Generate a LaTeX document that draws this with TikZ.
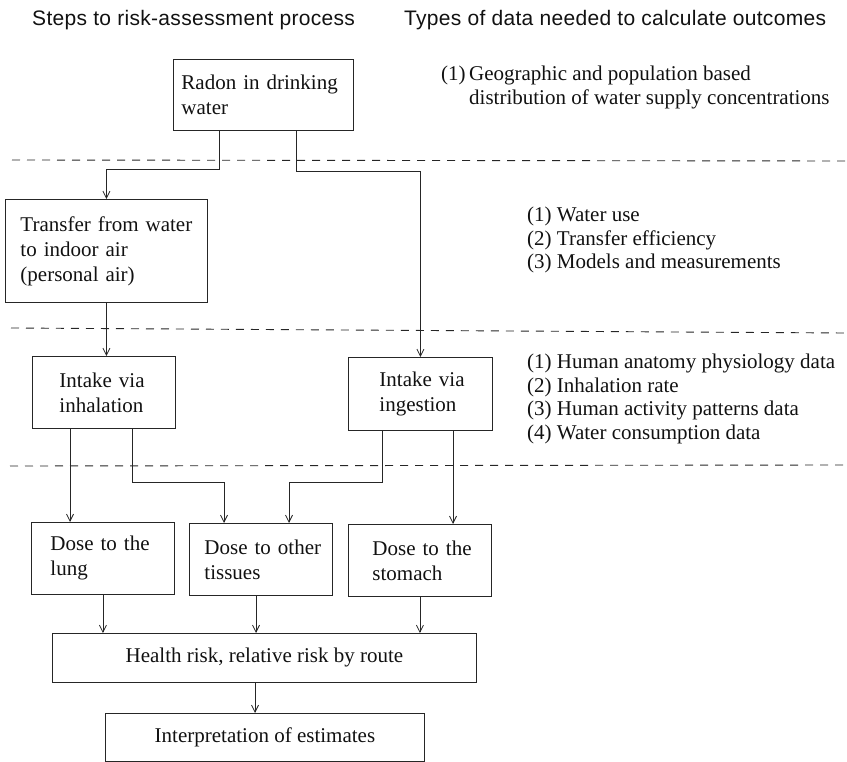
\documentclass[tikz,border=0pt]{standalone}
\usepackage{fontspec}
\setmainfont{Liberation Serif}
\newfontfamily\titlefont[LetterSpace=1.5]{Liberation Sans}
\usetikzlibrary{arrows.meta,calc}
\definecolor{ink}{HTML}{111111}
\definecolor{wire}{HTML}{262626}
\begin{document}
\begin{tikzpicture}[x=1pt,y=-1pt,
  box/.style={draw=wire, line width=0.9pt, rectangle, align=left, anchor=north west,
    font=\fontsize{21}{25}\selectfont, text=ink, inner ysep=0pt},
  cbox/.style={draw=wire, line width=0.9pt, rectangle, align=center, anchor=north west,
    font=\fontsize{21}{25}\selectfont, text=ink, inner sep=0pt},
  arr/.style={draw=wire, line width=0.8pt, -{Straight Barb[length=7pt,width=7pt]}},
  sepline/.style={draw=wire, line width=0.9pt, dash pattern=on 8pt off 7pt},
  info/.style={font=\fontsize{21}{23.5}\selectfont, align=left, anchor=north west, text=ink, inner sep=0pt},
  ttl/.style={font=\titlefont\fontsize{21}{24}\selectfont, anchor=west, inner sep=0pt, text=ink}]
\useasboundingbox (0,0) rectangle (847,762);

% titles
\node[ttl] (t1) at (32,20) {Steps to risk-assessment process};
\node[ttl] (t2) at (404,20) {Types of data needed to calculate outcomes};

% separators
\draw[sepline] (12,160) -- (845,161);
\draw[sepline] (11,328) -- (845,333);
\draw[sepline] (10,466) -- (845,465);

% boxes
\node[box, minimum height=71pt, inner xsep=8pt, text width=164pt] (radon) at (173,59) {Radon in~drinking\\water};
\node[box, minimum height=103pt, inner xsep=15pt, text width=172pt] (transfer) at (5,199) {Transfer from~water\\to indoor~air\\(personal~air)};
\node[box, minimum height=72pt, inner xsep=27pt, text width=89pt] (inhal) at (32,356) {Intake~via\\inhalation};
\node[box, minimum height=73pt, inner xsep=31pt, text width=82pt] (ingest) at (348,357) {Intake~via\\ingestion};
\node[box, minimum height=72pt, inner xsep=19pt, text width=105pt] (lung) at (31,522) {Dose~to~the\\lung};
\node[box, minimum height=72pt, inner xsep=15pt, text width=113pt] (other) at (189,523) {Dose~to~other\\tissues};
\node[box, minimum height=72pt, inner xsep=24pt, text width=95pt] (stomach) at (348,524) {Dose~to~the\\stomach};
\node[cbox, minimum width=424pt, minimum height=49pt] (health) at (52,633) {Health risk, relative risk by route};
\node[cbox, minimum width=319pt, minimum height=48pt] (interp) at (105,713) {Interpretation of estimates};

% data lists
\node[info] (d1) at (441,66) {\makebox[28pt][l]{(1)}Geographic and population based\\\hspace*{28pt}distribution of water supply concentrations};
\node[info] (d2) at (527,207) {(1) Water use\\(2) Transfer efficiency\\(3) Models and measurements};
\node[info] (d3) at (527,354) {(1) Human anatomy physiology data\\(2) Inhalation rate\\(3) Human activity patterns data\\(4) Water consumption data};

% connectors
\draw[arr] ([xshift=46pt]radon.south west) -- ++(0,39) -| (transfer.north);
\draw[arr] ([xshift=123pt]radon.south west) -- ++(0,41) -| (ingest.north);
\draw[arr] (transfer.south) -- (transfer.south |- inhal.north);
\draw[arr] ([xshift=38pt]inhal.south west) coordinate (a1) -- (a1 |- lung.north);
\draw[arr] ([xshift=100pt]inhal.south west) -- ++(0,53) -| ([xshift=35pt]other.north west);
\draw[arr] ([xshift=34pt]ingest.south west) -- ++(0,51) -| ([xshift=100pt]other.north west);
\draw[arr] ([xshift=105pt]ingest.south west) coordinate (a2) -- (a2 |- stomach.north);
\draw[arr] (lung.south) -- (lung.south |- health.north);
\draw[arr] ([xshift=67pt]other.south west) coordinate (a3) -- (a3 |- health.north);
\draw[arr] (stomach.south) -- (stomach.south |- health.north);
\draw[arr] ([xshift=203pt]health.south west) coordinate (a4) -- (a4 |- interp.north);
\end{tikzpicture}
\end{document}
